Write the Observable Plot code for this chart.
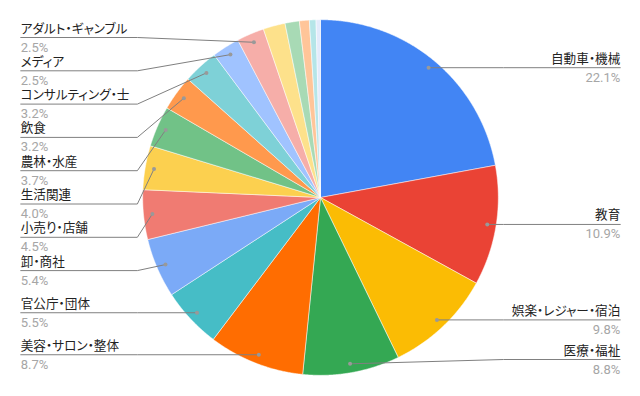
<!DOCTYPE html>
<html><head><meta charset="utf-8">
<script src="https://cdn.jsdelivr.net/npm/d3@7"></script>
<script src="https://cdn.jsdelivr.net/npm/@observablehq/plot@0.6"></script>
<style>body{margin:0;background:#fff;} #chart svg{display:block;} #chart svg text{font-feature-settings:"palt";}</style>
</head><body><div id="chart"></div>
<script>
// ---- data ----
const categories = ["自動車・機械","教育","娯楽・レジャー・宿泊","医療・福祉","美容・サロン・整体","官公庁・団体","卸・商社","小売り・店舗","生活関連","農林・水産","飲食","コンサルティング・士","メディア","アダルト・ギャンブル","その他1","その他2","その他3","その他4","その他5"];
const values = [22.1,10.9,9.8,8.8,8.7,5.5,5.4,4.5,4.0,3.7,3.2,3.2,2.5,2.5,2.0,1.3,0.9,0.6,0.4];
const colors = ["#4285f4","#ea4335","#fbbc04","#34a853","#ff6d01","#46bdc6","#7baaf7","#f07b72","#fcd04f","#71c287","#ff994d","#7ed1d7","#a0c3ff","#f6aea9","#fde18b","#a8dab5","#ffc599","#b5e5e8","#e3ebfb"];
const labelThreshold = 2.5;

// ---- geometry (unit circle, y up) ----
const W = 640, H = 396, cx = 320, cy = 197, Rpx = 177.8;
const xDomain = [-cx / Rpx, (W - cx) / Rpx];
const yDomain = [-(H - cy) / Rpx, cy / Rpx];
const dotR = 0.95, elbowX = 1.03, endX = 1.686;
const G = 33.3 / Rpx, TOP = yDomain[1] - 37 / Rpx, BOT = yDomain[0] + 37 / Rpx;

const arcs = d3.pie().sort(null).value(d => d.value)(
  categories.map((c, i) => ({category: c, value: values[i], color: colors[i]}))
);

const slicePts = [];
for (const a of arcs) {
  const n = Math.max(2, Math.ceil((a.endAngle - a.startAngle) / 0.005));
  slicePts.push({cat: a.data.category, color: a.data.color, x: 0, y: 0});
  for (let k = 0; k <= n; k++) {
    const t = a.startAngle + (a.endAngle - a.startAngle) * k / n;
    slicePts.push({cat: a.data.category, color: a.data.color, x: Math.sin(t), y: Math.cos(t)});
  }
  slicePts.push({cat: a.data.category, color: a.data.color, x: 0, y: 0});
}

// labels
const labeled = arcs.filter(a => a.data.value >= labelThreshold).map(a => {
  const m = (a.startAngle + a.endAngle) / 2;
  return {category: a.data.category, value: a.data.value,
    dx: Math.sin(m) * dotR, dy: Math.cos(m) * dotR, side: Math.sin(m) >= 0 ? 1 : -1, t: Math.cos(m) * dotR};
});

function layout(items) {
  items.sort((a, b) => b.t - a.t);
  let clusters = items.map(it => ({items: [it], top: it.t}));
  let changed = true;
  while (changed) {
    changed = false;
    for (const c of clusters) {
      const n = c.items.length;
      if (c.top > TOP) c.top = TOP;
      if (c.top - (n - 1) * G < BOT) c.top = BOT + (n - 1) * G;
    }
    for (let i = 0; i < clusters.length - 1; i++) {
      const a = clusters[i], b = clusters[i + 1];
      const aBottom = a.top - (a.items.length - 1) * G;
      if (aBottom - b.top < G - 1e-9) {
        const its = [...a.items, ...b.items];
        const top = d3.mean(its, (it, k) => it.t + k * G);
        clusters.splice(i, 2, {items: its, top});
        changed = true;
        break;
      }
    }
  }
  for (const c of clusters) c.items.forEach((it, k) => it.ly = c.top - k * G);
}
const right = labeled.filter(d => d.side > 0);
const left = labeled.filter(d => d.side < 0);
layout(right);
layout(left);

const leader = [];
for (const d of labeled) {
  leader.push({cat: d.category, x: d.dx, y: d.dy});
  leader.push({cat: d.category, x: d.side * elbowX, y: d.ly});
  leader.push({cat: d.category, x: d.side * endX, y: d.ly});
}

const nameStyle = {text: "category", lineAnchor: "bottom", dy: -5, fontSize: 12.6, fill: "#222"};
const pctStyle = {text: d => d.value.toFixed(1) + "%", lineAnchor: "bottom", dy: 14, fontSize: 13, fill: "#a6a6a6"};

const chart = Plot.plot({
  width: W, height: H, margin: 0,
  x: {domain: xDomain, axis: null},
  y: {domain: yDomain, axis: null},
  color: {type: "identity"},
  style: {fontFamily: "Roboto, 'Noto Sans CJK JP', sans-serif", background: "#fff"},
  marks: [
    Plot.line(slicePts, {x: "x", y: "y", z: "cat", fill: "color", stroke: "#fff", strokeWidth: 0.5, curve: "linear"}),
    Plot.line(leader, {x: "x", y: "y", z: "cat", stroke: "#808080", strokeWidth: 1}),
    Plot.dot(labeled, {x: "dx", y: "dy", r: 2, fill: "#999", stroke: "none"}),
    Plot.text(right, {x: () => endX, y: "ly", textAnchor: "end", ...nameStyle}),
    Plot.text(left, {x: () => -endX, y: "ly", textAnchor: "start", ...nameStyle}),
    Plot.text(right, {x: () => endX, y: "ly", textAnchor: "end", ...pctStyle}),
    Plot.text(left, {x: () => -endX, y: "ly", textAnchor: "start", ...pctStyle})
  ]
});
document.getElementById("chart").append(chart);
</script>
</body></html>
